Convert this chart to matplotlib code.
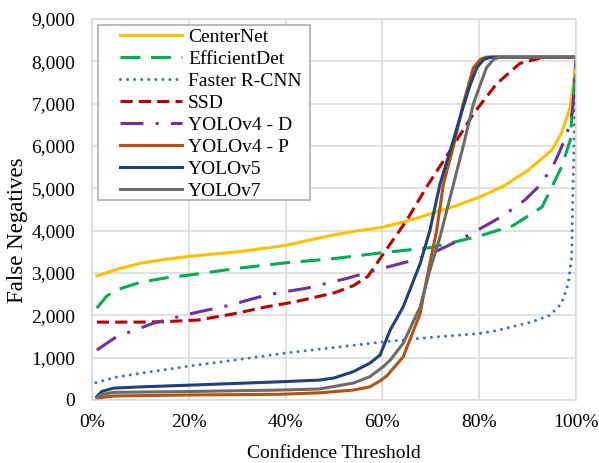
import matplotlib
matplotlib.use("Agg")
import matplotlib.pyplot as plt
from matplotlib.patches import Rectangle
from matplotlib.ticker import FuncFormatter, MultipleLocator

plt.rcParams["font.family"] = "Liberation Serif"
plt.rcParams["font.size"] = 14

# confidence threshold (%) / false negatives for each detector
centernet_x = [1, 5, 10, 15, 20, 30, 40, 45, 50, 55, 60, 65, 70, 75, 80, 85, 90, 95, 97, 98.8, 99.5, 100]
centernet_y = [2930, 3080, 3230, 3320, 3390, 3500, 3650, 3780, 3900, 4000, 4080, 4220, 4400, 4580, 4790, 5050, 5420, 5900, 6300, 6910, 7500, 8050]

effdet_x = [1, 3, 5, 10, 15, 20, 30, 40, 50, 60, 70, 80, 87, 93, 97, 98.8, 99.4, 100]
effdet_y = [2170, 2450, 2600, 2780, 2880, 2950, 3110, 3240, 3340, 3480, 3600, 3870, 4120, 4560, 5500, 6130, 7070, 7950]

frcnn_x = [0.8, 5, 10, 20, 30, 40, 50, 60, 70, 80, 84, 91, 94.6, 97, 98.4, 99.1, 99.3, 99.6, 99.9]
frcnn_y = [410, 540, 630, 800, 950, 1110, 1240, 1370, 1480, 1570, 1650, 1850, 2000, 2280, 2750, 3380, 4560, 6130, 8010]

ssd_x = [1, 10, 15, 22, 29, 36, 42, 50, 54, 57, 60, 65, 69.5, 74, 78.8, 83.6, 88.4, 91, 93, 100]
ssd_y = [1840, 1840, 1850, 1890, 2030, 2200, 2320, 2530, 2700, 2920, 3420, 4240, 5100, 5890, 6760, 7470, 7950, 8030, 8090, 8090]

v4d_x = [1, 5, 12.6, 20, 28.5, 36, 41.6, 44.3, 52.6, 60, 65, 69, 72, 76, 82.6, 85, 89.5, 92.6, 95.3, 96.7, 98.1, 99.3, 100]
v4d_y = [1180, 1490, 1810, 2030, 2240, 2480, 2590, 2640, 2870, 3110, 3260, 3400, 3560, 3780, 4200, 4360, 4730, 5080, 5540, 5890, 6280, 6830, 8000]

v4p_x = [1, 2, 4.4, 20, 38.8, 47, 54, 57.4, 59.5, 61, 64.3, 67.8, 69.1, 71.2, 72.6, 74.7, 76.7, 78.8, 80.3, 81.5, 100]
v4p_y = [0, 60, 95, 118, 135, 170, 235, 310, 450, 580, 1020, 2040, 2830, 4000, 5100, 6000, 7000, 7850, 8050, 8100, 8100]

v5_x = [1, 2, 4.4, 10, 20, 38.8, 47, 50, 54, 57.4, 59.5, 61.6, 64.3, 67.8, 69.8, 71.9, 74.3, 76.5, 78, 79.5, 81, 82.5, 100]
v5_y = [80, 200, 280, 310, 350, 430, 470, 520, 670, 870, 1060, 1650, 2200, 3220, 4000, 5100, 6000, 6850, 7400, 7850, 8050, 8100, 8100]

v7_x = [1, 2, 4.4, 20, 38.8, 47, 54, 57.4, 60.2, 61.6, 64.3, 67.8, 69.8, 71.9, 74, 76.7, 78.8, 81.5, 83, 84.3, 100]
v7_y = [50, 130, 180, 200, 235, 260, 400, 550, 790, 940, 1340, 2200, 3060, 3850, 4790, 6000, 7000, 7850, 8050, 8100, 8100]

W, H = 599, 463
lw = 2.2
fig = plt.figure(figsize=(W / 100, H / 100), dpi=100)
ax = fig.add_axes([92 / W, 1 - 400 / H, 484 / W, 381 / H])

ax.plot(centernet_x, centernet_y, color="#FFC000", lw=lw, label="CenterNet")
ax.plot(effdet_x, effdet_y, color="#00B050", lw=lw, ls=(0, (6.5, 3.5)), label="EfficientDet")
ax.plot(frcnn_x, frcnn_y, color="#4472C4", lw=lw, ls=(0, (0.01, 2.3)),
        dash_capstyle="round", label="Faster R-CNN")
ax.plot(ssd_x, ssd_y, color="#C00000", lw=lw, ls=(0, (4, 2)), label="SSD")
ax.plot(v4d_x, v4d_y, color="#7030A0", lw=lw, ls=(0, (7.5, 4, 1, 4)), label="YOLOv4 - D")
ax.plot(v4p_x, v4p_y, color="#B5520F", lw=lw, label="YOLOv4 - P")
ax.plot(v5_x, v5_y, color="#22407A", lw=lw, label="YOLOv5")
ax.plot(v7_x, v7_y, color="#6B6B6B", lw=lw, label="YOLOv7")

ax.set_xlim(0, 100)
ax.set_ylim(0, 9000)
ax.xaxis.set_major_locator(MultipleLocator(20))
ax.yaxis.set_major_locator(MultipleLocator(1000))
ax.xaxis.set_major_formatter(FuncFormatter(lambda v, p: f"{v:.0f}%"))
ax.yaxis.set_major_formatter(FuncFormatter(lambda v, p: f"{v:,.0f}"))
ax.tick_params(length=0)
ax.tick_params(axis="y", pad=12)
ax.tick_params(axis="x", pad=10)
ax.grid(True, color="#D9D9D9", lw=1.1)
ax.set_axisbelow(True)
for s in ax.spines.values():
    s.set_color("#D9D9D9")
    s.set_linewidth(1.1)

ax.set_xlabel("Confidence Threshold", labelpad=10)
ax.set_ylabel("False Negatives", fontsize=16.5)
ax.yaxis.set_label_coords(-0.133, 0.445)

# legend box drawn separately so the entries can sit inset from its left edge
box = Rectangle((98 / W, 1 - 200 / H), 212 / W, 175 / H, transform=fig.transFigure,
                facecolor="white", edgecolor="#A6A6A6", lw=1.1, zorder=4.9, clip_on=False)
ax.add_patch(box)
leg = ax.legend(loc="upper left", bbox_to_anchor=(120 / W, 1 - 28 / H),
                bbox_transform=fig.transFigure, borderaxespad=0, borderpad=0,
                frameon=False, handlelength=3.2, handletextpad=0.3,
                labelspacing=0.23)
leg.set_zorder(5)

fig.savefig("out.png", dpi=100)
